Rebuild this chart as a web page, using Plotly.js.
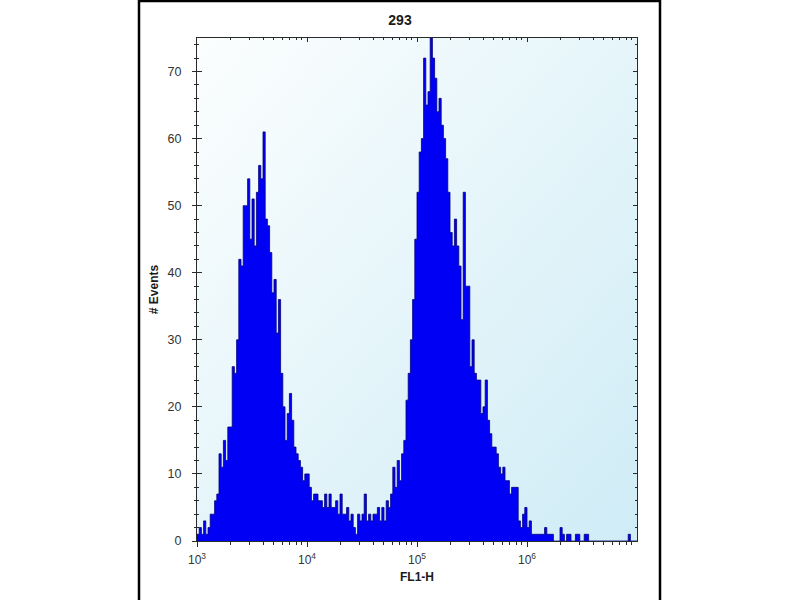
<!DOCTYPE html>
<html>
<head>
<meta charset="utf-8">
<script src="https://cdn.plot.ly/plotly-3.0.1.min.js"></script>
<style>
  html, body { margin: 0; padding: 0; background: #ffffff; }
  #chart { width: 800px; height: 600px; }
</style>
</head>
<body>
<div id="chart"></div>
<script>
// ---- data ----
var chartTitle = "293";
var xTitle = "FL1-H";
var yTitle = "# Events";

// histogram channels: start at 10^3, each channel 0.02 decade wide
var binStartLog = 3;
var binWidthLog = 0.02;

// event counts per channel
var counts = [
  1, 2, 1, 3, 1, 2, 4, 4, 6, 7,
  13, 11, 15, 12, 17, 17, 26, 25, 30, 42,
  41, 50, 50, 54, 45, 51, 44, 52, 56, 54,
  61, 48, 47, 43, 37, 39, 31, 36, 25, 20,
  15, 19, 22, 18, 14, 13, 12, 11, 9, 10,
  10, 8, 6, 7, 7, 6, 6, 5, 7, 5,
  7, 5, 5, 6, 4, 7, 4, 4, 5, 3,
  4, 2, 1, 4, 3, 4, 7, 3, 4, 3,
  4, 4, 5, 3, 5, 3, 6, 5, 7, 11,
  8, 12, 9, 13, 15, 21, 25, 30, 36, 45,
  52, 58, 60, 72, 65, 67, 75, 72, 69, 64,
  66, 62, 60, 57, 52, 46, 44, 48, 44, 41,
  33, 52, 38, 38, 26, 30, 25, 24, 24, 19,
  20, 24, 18, 16, 14, 14, 13, 11, 10, 11,
  9, 9, 7, 8, 8, 8, 3, 2, 4, 5,
  2, 3, 1, 1, 1, 1, 1, 1, 2, 1,
  1, 1, 0, 0, 0, 2, 1, 0, 1, 1,
  0, 0, 1, 1, 0, 0, 1, 1, 0, 0,
  0, 0, 0, 0, 0, 0, 0, 0, 0, 0,
  0, 0, 0, 0, 0, 0, 1, 0, 0, 0
];

var xMajorTicks = [1e3, 1e4, 1e5, 1e6];
var xTickLabels = ["10<sup>3</sup>", "10<sup>4</sup>", "10<sup>5</sup>", "10<sup>6</sup>"];
var yTicks = [0, 10, 20, 30, 40, 50, 60, 70];

// ---- build step histogram ----
var edgesX = [], stepY = [];
for (var i = 0; i < counts.length; i++) {
  edgesX.push(Math.pow(10, binStartLog + binWidthLog * i));
  stepY.push(counts[i]);
}
edgesX.push(Math.pow(10, binStartLog + binWidthLog * counts.length));
stepY.push(counts[counts.length - 1]);

// minor log ticks (2..9 within each decade)
var xMinor = [];
for (var d = 3; d < 7; d++) {
  for (var m = 2; m <= 9; m++) xMinor.push(m * Math.pow(10, d));
}

var FONT = "Liberation Sans, Arial, Helvetica, sans-serif";
var AX = "#2a2a2a";

var traces = [
  {
    type: "scatter", mode: "lines",
    x: edgesX, y: stepY,
    line: { shape: "hv", color: "#00007f", width: 0.8 },
    fill: "tozeroy", fillcolor: "#0000f5",
    hoverinfo: "skip", showlegend: false
  },
  { type: "scatter", x: [], y: [], xaxis: "x2", yaxis: "y2", showlegend: false, hoverinfo: "skip" },
  { type: "scatter", x: [], y: [], xaxis: "x", yaxis: "y3", showlegend: false, hoverinfo: "skip" }
];

var L = 197, R = 637, T = 38, B = 541;
var pw = R - L, ph = B - T;
function px2paperX(p) { return (p - L) / pw; }
function px2paperY(p) { return (B - p) / ph; }

var layout = {
  width: 800, height: 600,
  margin: { l: L, r: 800 - R, t: T, b: 600 - B, pad: 0 },
  paper_bgcolor: "#ffffff",
  plot_bgcolor: "#e4f5fa",
  showlegend: false,
  font: { family: FONT, color: "#333333", size: 12 },
  title: {
    text: "<b>" + chartTitle + "</b>",
    x: 0.5, xref: "container", xanchor: "center",
    y: 1 - 20 / 600, yref: "container", yanchor: "middle",
    font: { family: FONT, size: 14, color: "#1a1a1a" }
  },
  xaxis: {
    type: "log", range: [3, 7],
    tickmode: "array", tickvals: xMajorTicks, ticktext: xTickLabels,
    ticks: "outside", ticklen: 5, tickwidth: 1, tickcolor: AX,
    ticklabelstandoff: 3,
    minor: { tickmode: "array", tickvals: xMinor, ticks: "outside", ticklen: 3, tickwidth: 1, tickcolor: AX, showgrid: false },
    showline: true, linecolor: AX, linewidth: 1,
    showgrid: false, zeroline: false,
    tickfont: { family: FONT, size: 12, color: "#333333" },
    title: { text: "<b>" + xTitle + "</b>", font: { family: FONT, size: 12, color: "#1a1a1a" }, standoff: 6 }
  },
  xaxis2: {
    type: "log", range: [3, 7], overlaying: "x", side: "top", anchor: "y",
    tickmode: "array", tickvals: xMajorTicks, showticklabels: false,
    ticks: "inside", ticklen: 4, tickwidth: 1, tickcolor: AX,
    minor: { tickmode: "array", tickvals: xMinor, ticks: "inside", ticklen: 2, tickwidth: 1, tickcolor: AX, showgrid: false },
    showline: true, linecolor: AX, linewidth: 1,
    showgrid: false, zeroline: false
  },
  yaxis: {
    range: [0, 75],
    tickmode: "array", tickvals: yTicks,
    ticks: "outside", ticklen: 4, tickwidth: 1, tickcolor: AX,
    ticklabelstandoff: 8,
    minor: { dtick: 2, tick0: 0, ticks: "outside", ticklen: 2, tickwidth: 1, tickcolor: AX, showgrid: false },
    showline: true, linecolor: AX, linewidth: 1,
    showgrid: false, zeroline: false,
    tickfont: { family: FONT, size: 12.5, color: "#333333" },
    title: { text: "<b>" + yTitle + "</b>", font: { family: FONT, size: 12, color: "#1a1a1a" }, standoff: 6 }
  },
  yaxis2: {
    range: [0, 75], overlaying: "y", side: "right", anchor: "x2",
    tickmode: "array", tickvals: yTicks, showticklabels: false,
    ticks: "inside", ticklen: 4, tickwidth: 1, tickcolor: AX,
    minor: { dtick: 2, tick0: 0, ticks: "inside", ticklen: 2, tickwidth: 1, tickcolor: AX, showgrid: false },
    showline: true, linecolor: AX, linewidth: 1,
    showgrid: false, zeroline: false
  },
  yaxis3: {
    range: [0, 75], overlaying: "y", side: "left", anchor: "x",
    tickmode: "array", tickvals: yTicks, showticklabels: false,
    ticks: "inside", ticklen: 5, tickwidth: 1, tickcolor: AX,
    minor: { dtick: 2, tick0: 0, ticks: "inside", ticklen: 2, tickwidth: 1, tickcolor: AX, showgrid: false },
    showline: false, showgrid: false, zeroline: false
  },
  shapes: [
    {
      type: "rect", xref: "paper", yref: "paper", layer: "below",
      x0: px2paperX(139), x1: px2paperX(660),
      y0: px2paperY(612), y1: px2paperY(1),
      line: { color: "#000000", width: 2.5 },
      fillcolor: "rgba(0,0,0,0)"
    }
  ]
};

Plotly.newPlot("chart", traces, layout, { staticPlot: true, displayModeBar: false }).then(function (gd) {
  // diagonal light gradient on the plotting area background
  var svg = gd.querySelector("svg.main-svg");
  var ns = "http://www.w3.org/2000/svg";
  var defs = svg.querySelector("defs") || svg.insertBefore(document.createElementNS(ns, "defs"), svg.firstChild);
  var g = document.createElementNS(ns, "linearGradient");
  g.setAttribute("id", "bgGrad");
  g.setAttribute("x1", "0"); g.setAttribute("y1", "0");
  g.setAttribute("x2", "1"); g.setAttribute("y2", "1");
  var stops = [["0", "#fcfefe"], ["0.5", "#e5f5fa"], ["1", "#cfecf6"]];
  stops.forEach(function (s) {
    var st = document.createElementNS(ns, "stop");
    st.setAttribute("offset", s[0]);
    st.setAttribute("stop-color", s[1]);
    g.appendChild(st);
  });
  defs.appendChild(g);
  var bgs = gd.querySelectorAll(".bglayer rect.bg");
  bgs.forEach(function (r) { r.style.fill = "url(#bgGrad)"; });
});
</script>
</body>
</html>
